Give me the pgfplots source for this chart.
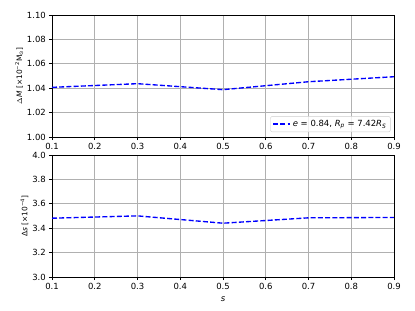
\documentclass[border=0pt]{standalone}
\usepackage{fontspec}
\setmainfont{DejaVu Sans}
\usepackage{pgfplots}
\pgfplotsset{compat=1.18}
\definecolor{gridgray}{HTML}{B0B0B0}
\definecolor{leggray}{HTML}{CCCCCC}
\begin{document}
\fontsize{8.5}{10}\selectfont
\begin{tikzpicture}[x=1bp,y=1bp]
\path[use as bounding box] (0,0) rectangle (415,311);
\pgfplotsset{
  every axis/.style={
    scale only axis, width=342bp, height=122bp,
    xmin=0.1, xmax=0.9,
    xtick={0.1,0.2,...,0.9},
    /pgf/number format/assume math mode=true,
    /pgf/number format/fixed,
    /pgf/number format/fixed zerofill,
    grid=major,
    major grid style={gridgray, line width=0.72bp},
    axis line style={line width=0.72bp, black},
    tick style={line width=0.72bp, black},
    tick align=outside,
    major tick length=3.2bp,
    xtick pos=bottom, ytick pos=left,
    tick label style={font=\fontsize{8.5}{10}\selectfont},
    label style={font=\fontsize{8.5}{10}\selectfont},
    axis on top=false,
  },
}
\begin{axis}[at={(52bp,174bp)}, anchor=south west,
  ymin=1.0, ymax=1.1, ytick={1.00,1.02,...,1.10},
  yticklabel style={/pgf/number format/precision=2},
  xticklabel style={/pgf/number format/precision=1},
  ylabel={$\Delta\mathit{M}$ [×10\textsuperscript{−2}M\textsubscript{⊙}]},
  ylabel style={font=\fontsize{7.5}{9}\selectfont, yshift=-2bp},
  legend style={at={(0.99,0.04)}, anchor=south east, draw=leggray, rounded corners=2bp, fill=white, fill opacity=0.8, text opacity=1, font=\fontsize{8.5}{10}\selectfont, inner sep=2bp},
  legend cell align=left,
  legend image post style={line width=1.35bp},
  ]
\addplot[blue, line width=1.35bp, dash pattern=on 5bp off 2.2bp] coordinates {
(0.1,1.0407) (0.3,1.0437) (0.5,1.0388) (0.7,1.0453) (0.9,1.0494)};
\addlegendentry{\textit{e} = 0.84, \textit{R}\textsubscript{\textit{p}} = 7.42\textit{R}\textsubscript{\textit{S}}}
\end{axis}
\begin{axis}[at={(52bp,34bp)}, anchor=south west,
  ymin=3.0, ymax=4.0, ytick={3.0,3.2,...,4.0},
  yticklabel style={/pgf/number format/precision=1},
  xticklabel style={/pgf/number format/precision=1},
  ylabel={Δ\textit{s} [×10\textsuperscript{−4}]},
  ylabel style={font=\fontsize{7.5}{9}\selectfont, yshift=-2bp},
  xlabel={\textit{s}},
  xlabel style={yshift=-1bp},
  ]
\addplot[blue, line width=1.35bp, dash pattern=on 5bp off 2.2bp] coordinates {
(0.1,3.482) (0.3,3.501) (0.5,3.441) (0.7,3.485) (0.9,3.488)};
\end{axis}
\end{tikzpicture}
\end{document}
